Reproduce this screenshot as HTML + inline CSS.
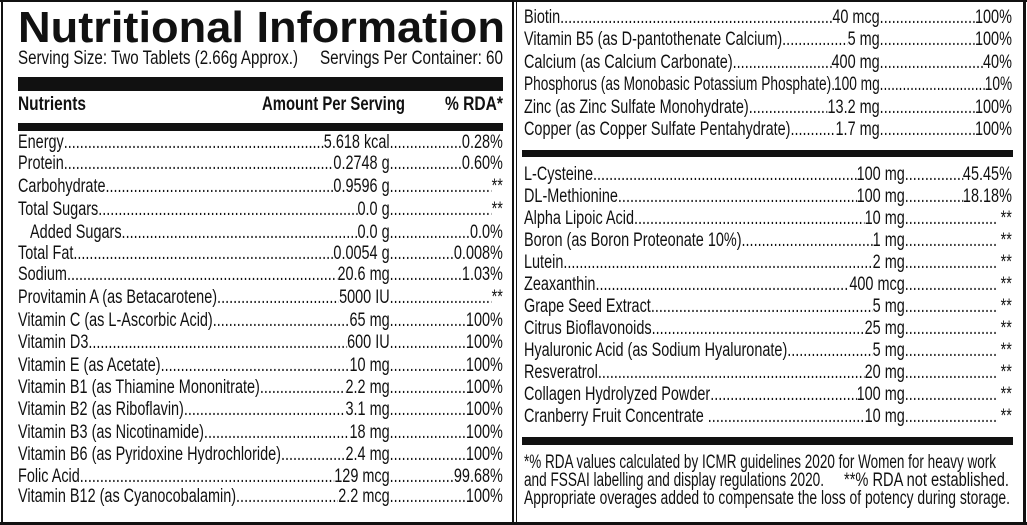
<!DOCTYPE html>
<html><head><meta charset="utf-8"><style>
body{margin:0;background:#fff}
#w{position:relative;width:1027px;height:525px;overflow:hidden;background:#fff;color:#111;font-family:"Liberation Sans",sans-serif}
.ln{position:absolute;background:#111}
.row{position:absolute;height:22px;line-height:22px;font-size:19px;transform-origin:0 0;transform:scaleX(.76);display:flex;white-space:nowrap}
.a,.b{display:flex;overflow:hidden}
.a{flex:none}.b{flex:1}
.a span:first-child{flex:0 1 auto;min-width:0;overflow:hidden}
.a span:last-child,.b span:last-child{flex:none}
.d{flex:1 1 0;min-width:0;overflow:hidden}
.d::after{content:"............................................................................................................................................................................................................"}
.L{left:18px;width:638px}.L .a{width:489px}
.T{left:524px;width:642px}.T .a{width:468px}
.B{left:524px;width:642px}.B .a{width:501px}
.row.P{transform:scaleX(.72);width:678px}.row.P .a{width:494px}
svg{position:absolute;left:0;top:0}
</style></head><body><div id="w">
<div class="ln" style="left:0;top:0;width:1027px;height:2px"></div>
<div class="ln" style="left:0;top:522px;width:1027px;height:3px"></div>
<div class="ln" style="left:1px;top:0;width:2px;height:525px"></div>
<div class="ln" style="left:1023px;top:0;width:3px;height:525px"></div>
<div class="ln" style="left:512px;top:0;width:2px;height:525px"></div>
<div class="ln" style="left:516px;top:0;width:1px;height:525px"></div>
<div class="ln" style="left:18px;top:77px;width:485px;height:14px"></div>
<div class="ln" style="left:18px;top:123px;width:485px;height:8px"></div>
<div class="ln" style="left:522px;top:150px;width:491px;height:7px"></div>
<div class="ln" style="left:522px;top:437px;width:491px;height:8px"></div>
<svg width="1027" height="525" font-family="Liberation Sans, sans-serif" fill="#111">
<text x="18" y="42" font-size="44" font-weight="bold" textLength="487" lengthAdjust="spacingAndGlyphs">Nutritional Information</text>
<text x="18" y="64" font-size="19" textLength="280" lengthAdjust="spacingAndGlyphs">Serving Size: Two Tablets (2.66g Approx.)</text>
<text x="320" y="64" font-size="19" textLength="183" lengthAdjust="spacingAndGlyphs">Servings Per Container: 60</text>
<text x="18" y="110" font-size="19" font-weight="bold" textLength="68" lengthAdjust="spacingAndGlyphs">Nutrients</text>
<text x="262" y="110" font-size="19" font-weight="bold" textLength="143" lengthAdjust="spacingAndGlyphs">Amount Per Serving</text>
<text x="445" y="110" font-size="19" font-weight="bold" textLength="58" lengthAdjust="spacingAndGlyphs">% RDA*</text>
<text x="524" y="468" font-size="19" textLength="472" lengthAdjust="spacingAndGlyphs">*% RDA values calculated by ICMR guidelines 2020 for Women for heavy work</text>
<text x="524" y="486" font-size="19" textLength="300" lengthAdjust="spacingAndGlyphs">and FSSAI labelling and display regulations 2020.</text>
<text x="844" y="486" font-size="19" textLength="165" lengthAdjust="spacingAndGlyphs">**% RDA not established.</text>
<text x="524" y="504" font-size="19" textLength="486" lengthAdjust="spacingAndGlyphs">Appropriate overages added to compensate the loss of potency during storage.</text>
</svg>

<div class="row L" style="top:132px"><div class="a"><span>Energy</span><span class="d"></span><span>5.618 kcal</span></div><div class="b"><span class="d"></span><span>0.28%</span></div></div>
<div class="row L" style="top:153px"><div class="a"><span>Protein</span><span class="d"></span><span>0.2748 g</span></div><div class="b"><span class="d"></span><span>0.60%</span></div></div>
<div class="row L" style="top:176px"><div class="a"><span>Carbohydrate</span><span class="d"></span><span>0.9596 g</span></div><div class="b"><span class="d"></span><span>**</span></div></div>
<div class="row L" style="top:199px"><div class="a"><span>Total Sugars</span><span class="d"></span><span>0.0 g</span></div><div class="b"><span class="d"></span><span>**</span></div></div>
<div class="row L" style="top:222px"><div class="a"><span>&nbsp;&nbsp;&nbsp;Added Sugars</span><span class="d"></span><span>0.0 g</span></div><div class="b"><span class="d"></span><span>0.0%</span></div></div>
<div class="row L" style="top:243px"><div class="a"><span>Total Fat</span><span class="d"></span><span>0.0054 g</span></div><div class="b"><span class="d"></span><span>0.008%</span></div></div>
<div class="row L" style="top:264px"><div class="a"><span>Sodium</span><span class="d"></span><span>20.6 mg</span></div><div class="b"><span class="d"></span><span>1.03%</span></div></div>
<div class="row L" style="top:287px"><div class="a"><span>Provitamin A (as Betacarotene)</span><span class="d"></span><span>5000 IU</span></div><div class="b"><span class="d"></span><span>**</span></div></div>
<div class="row L" style="top:310px"><div class="a"><span>Vitamin C (as L-Ascorbic Acid)</span><span class="d"></span><span>65 mg</span></div><div class="b"><span class="d"></span><span>100%</span></div></div>
<div class="row L" style="top:332px"><div class="a"><span>Vitamin D3</span><span class="d"></span><span>600 IU</span></div><div class="b"><span class="d"></span><span>100%</span></div></div>
<div class="row L" style="top:355px"><div class="a"><span>Vitamin E (as Acetate)</span><span class="d"></span><span>10 mg</span></div><div class="b"><span class="d"></span><span>100%</span></div></div>
<div class="row L" style="top:377px"><div class="a"><span>Vitamin B1 (as Thiamine Mononitrate)</span><span class="d"></span><span>2.2 mg</span></div><div class="b"><span class="d"></span><span>100%</span></div></div>
<div class="row L" style="top:399px"><div class="a"><span>Vitamin B2 (as Riboflavin)</span><span class="d"></span><span>3.1 mg</span></div><div class="b"><span class="d"></span><span>100%</span></div></div>
<div class="row L" style="top:422px"><div class="a"><span>Vitamin B3 (as Nicotinamide)</span><span class="d"></span><span>18 mg</span></div><div class="b"><span class="d"></span><span>100%</span></div></div>
<div class="row L" style="top:444px"><div class="a"><span>Vitamin B6 (as Pyridoxine Hydrochloride)</span><span class="d"></span><span>2.4 mg</span></div><div class="b"><span class="d"></span><span>100%</span></div></div>
<div class="row L" style="top:466px"><div class="a"><span>Folic Acid</span><span class="d"></span><span>129 mcg</span></div><div class="b"><span class="d"></span><span>99.68%</span></div></div>
<div class="row L" style="top:486px"><div class="a"><span>Vitamin B12 (as Cyanocobalamin)</span><span class="d"></span><span>2.2 mcg</span></div><div class="b"><span class="d"></span><span>100%</span></div></div>

<div class="row T" style="top:7px"><div class="a"><span>Biotin</span><span class="d"></span><span>40 mcg</span></div><div class="b"><span class="d"></span><span>100%</span></div></div>
<div class="row T" style="top:29px"><div class="a"><span>Vitamin B5 (as D-pantothenate Calcium)</span><span class="d"></span><span>5 mg</span></div><div class="b"><span class="d"></span><span>100%</span></div></div>
<div class="row T" style="top:52px"><div class="a"><span>Calcium (as Calcium Carbonate)</span><span class="d"></span><span>400 mg</span></div><div class="b"><span class="d"></span><span>40%</span></div></div>
<div class="row T P" style="top:74px"><div class="a"><span>Phosphorus (as Monobasic Potassium Phosphate)..</span><span>100 mg</span></div><div class="b"><span class="d"></span><span>10%</span></div></div>
<div class="row T" style="top:97px"><div class="a"><span>Zinc (as Zinc Sulfate Monohydrate)</span><span class="d"></span><span>13.2 mg</span></div><div class="b"><span class="d"></span><span>100%</span></div></div>
<div class="row T" style="top:119px"><div class="a"><span>Copper (as Copper Sulfate Pentahydrate)</span><span class="d"></span><span>1.7 mg</span></div><div class="b"><span class="d"></span><span>100%</span></div></div>

<div class="row B" style="top:164px"><div class="a"><span>L-Cysteine</span><span class="d"></span><span>100 mg</span></div><div class="b"><span class="d"></span><span>45.45%</span></div></div>
<div class="row B" style="top:186px"><div class="a"><span>DL-Methionine</span><span class="d"></span><span>100 mg</span></div><div class="b"><span class="d"></span><span>18.18%</span></div></div>
<div class="row B" style="top:208px"><div class="a"><span>Alpha Lipoic Acid</span><span class="d"></span><span>10 mg</span></div><div class="b"><span class="d"></span><span>&nbsp;**</span></div></div>
<div class="row B" style="top:230px"><div class="a"><span>Boron (as Boron Proteonate 10%)</span><span class="d"></span><span>1 mg</span></div><div class="b"><span class="d"></span><span>&nbsp;**</span></div></div>
<div class="row B" style="top:252px"><div class="a"><span>Lutein</span><span class="d"></span><span>2 mg</span></div><div class="b"><span class="d"></span><span>&nbsp;**</span></div></div>
<div class="row B" style="top:274px"><div class="a"><span>Zeaxanthin</span><span class="d"></span><span>400 mcg</span></div><div class="b"><span class="d"></span><span>&nbsp;**</span></div></div>
<div class="row B" style="top:296px"><div class="a"><span>Grape Seed Extract</span><span class="d"></span><span>5 mg</span></div><div class="b"><span class="d"></span><span>&nbsp;**</span></div></div>
<div class="row B" style="top:318px"><div class="a"><span>Citrus Bioflavonoids</span><span class="d"></span><span>25 mg</span></div><div class="b"><span class="d"></span><span>&nbsp;**</span></div></div>
<div class="row B" style="top:340px"><div class="a"><span>Hyaluronic Acid (as Sodium Hyaluronate)</span><span class="d"></span><span>5 mg</span></div><div class="b"><span class="d"></span><span>&nbsp;**</span></div></div>
<div class="row B" style="top:362px"><div class="a"><span>Resveratrol</span><span class="d"></span><span>20 mg</span></div><div class="b"><span class="d"></span><span>&nbsp;**</span></div></div>
<div class="row B" style="top:384px"><div class="a"><span>Collagen Hydrolyzed Powder</span><span class="d"></span><span>100 mg</span></div><div class="b"><span class="d"></span><span>&nbsp;**</span></div></div>
<div class="row B" style="top:406px"><div class="a"><span>Cranberry Fruit Concentrate&nbsp;</span><span class="d"></span><span>10 mg</span></div><div class="b"><span class="d"></span><span>&nbsp;**</span></div></div>
</div></body></html>
